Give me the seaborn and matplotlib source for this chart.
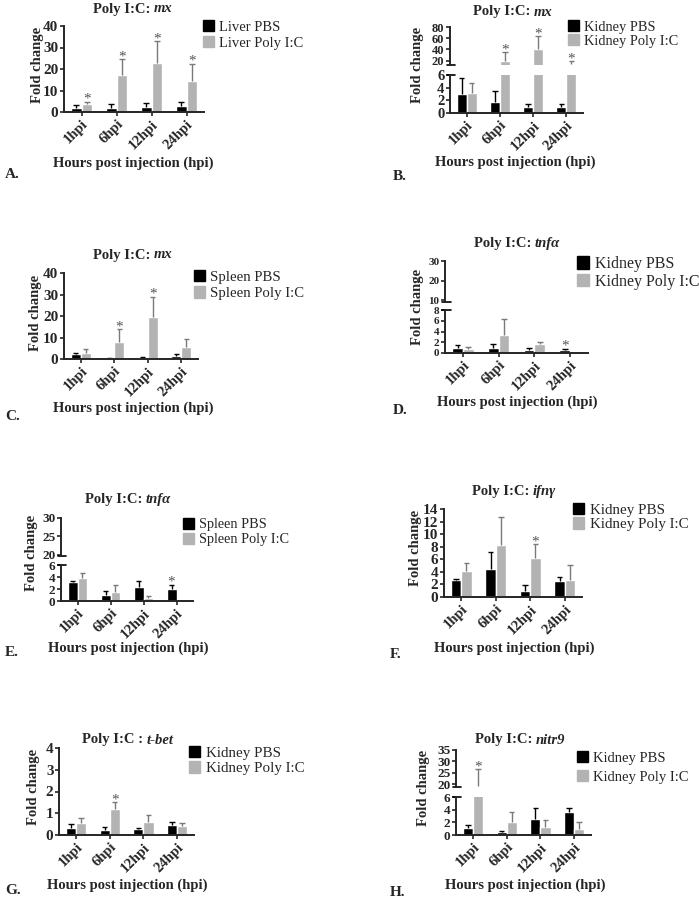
import pandas as pd
import seaborn as sns
import matplotlib.pyplot as plt
from matplotlib.patches import Patch

W, H = 699, 899
BLACK = "#000000"
GRAY = "#b3b3b3"
ERR_GRAY = "#7a7a7a"
STAR = "#555555"

times = ["1hpi", "6hpi", "12hpi", "24hpi"]

# A. liver mx
liver_mx_pbs = [1.8, 2.0, 2.5, 2.8]
liver_mx_pbs_sd = [1.3, 1.5, 1.8, 1.7]
liver_mx_pic = [3.6, 17.0, 23.0, 14.5]
liver_mx_pic_sd = [1.2, 7.5, 10.0, 8.0]
liver_mx_star_pbs = [0, 0, 0, 0]
liver_mx_star_pic = [1, 1, 1, 1]

# B. kidney mx (broken axis)
kidney_mx_pbs = [3.0, 1.8, 1.0, 1.0]
kidney_mx_pbs_sd = [2.5, 1.6, 0.5, 0.5]
kidney_mx_pic = [3.1, 20.0, 40.0, 13.0]
kidney_mx_pic_sd = [1.6, 15.0, 24.0, 6.0]
kidney_mx_star_pbs = [0, 0, 0, 0]
kidney_mx_star_pic = [0, 1, 1, 1]

# C. spleen mx
spleen_mx_pbs = [2.2, 0.2, 0.6, 1.2]
spleen_mx_pbs_sd = [0.5, 0.1, 0.4, 1.3]
spleen_mx_pic = [3.0, 7.8, 19.5, 5.8]
spleen_mx_pic_sd = [1.5, 6.0, 9.5, 3.7]
spleen_mx_star_pbs = [0, 0, 0, 0]
spleen_mx_star_pic = [0, 1, 1, 0]

# D. kidney tnfa (broken axis)
kidney_tnf_pbs = [1.0, 0.9, 0.5, 0.5]
kidney_tnf_pbs_sd = [0.4, 0.8, 0.4, 0.3]
kidney_tnf_pic = [0.8, 3.4, 1.6, 0.1]
kidney_tnf_pic_sd = [0.4, 3.0, 0.5, 0.0]
kidney_tnf_star_pbs = [0, 0, 0, 1]
kidney_tnf_star_pic = [0, 0, 0, 0]

# E. spleen tnfa (broken axis)
spleen_tnf_pbs = [3.1, 1.0, 2.3, 2.0]
spleen_tnf_pbs_sd = [0.2, 0.6, 1.0, 0.7]
spleen_tnf_pic = [3.9, 1.5, 0.5, 0.1]
spleen_tnf_pic_sd = [0.8, 1.1, 0.3, 0.0]
spleen_tnf_star_pbs = [0, 0, 0, 1]
spleen_tnf_star_pic = [0, 0, 0, 0]

# F. kidney ifng
kidney_ifn_pbs = [2.7, 4.5, 0.9, 2.5]
kidney_ifn_pbs_sd = [0.2, 2.7, 1.0, 0.7]
kidney_ifn_pic = [4.1, 8.3, 6.2, 2.7]
kidney_ifn_pic_sd = [1.3, 4.4, 2.2, 2.4]
kidney_ifn_star_pbs = [0, 0, 0, 0]
kidney_ifn_star_pic = [0, 0, 1, 0]

# G. kidney t-bet
kidney_tbet_pbs = [0.32, 0.25, 0.28, 0.45]
kidney_tbet_pbs_sd = [0.18, 0.10, 0.06, 0.17]
kidney_tbet_pic = [0.55, 1.2, 0.62, 0.42]
kidney_tbet_pic_sd = [0.23, 0.32, 0.28, 0.15]
kidney_tbet_star_pbs = [0, 0, 0, 0]
kidney_tbet_star_pic = [0, 1, 0, 0]

# H. kidney nitr9 (broken axis)
kidney_nitr_pbs = [1.1, 0.5, 2.6, 3.7]
kidney_nitr_pbs_sd = [0.5, 0.2, 1.6, 0.6]
kidney_nitr_pic = [19.0, 2.0, 1.2, 1.0]
kidney_nitr_pic_sd = [7.6, 1.7, 1.2, 1.1]
kidney_nitr_star_pbs = [0, 0, 0, 0]
kidney_nitr_star_pic = [1, 0, 0, 0]

sns.set_style("ticks")
plt.rcParams["font.family"] = ["Liberation Serif", "DejaVu Serif"]

fig = plt.figure(figsize=(W / 100, H / 100), dpi=100)
renderer = fig.canvas.get_renderer()


def px_box(l, t, r, b):
    return [l / W, 1 - b / H, (r - l) / W, (b - t) / H]


def draw_bars(ax, pbs, pbs_sd, pic, pic_sd, star_pbs, star_pic):
    df = pd.DataFrame({"time": times * 2, "fold": pbs + pic,
                       "group": ["PBS"] * 4 + ["PIC"] * 4})
    sns.barplot(data=df, x="time", y="fold", hue="group", palette=[BLACK, GRAY],
                width=0.6, errorbar=None, saturation=1, legend=False, ax=ax)
    for cont, means, sds, stars, ecol in zip(ax.containers, [pbs, pic], [pbs_sd, pic_sd],
                                             [star_pbs, star_pic], [BLACK, ERR_GRAY]):
        xs = [p.get_x() + p.get_width() / 2 for p in cont]
        tops = [m + s for m, s in zip(means, sds)]
        for x, m, t, st in zip(xs, means, tops, stars):
            if t > m:
                ax.vlines(x, m, t, color=ecol, lw=1)
                ax.hlines(t, x - 0.08, x + 0.08, color=ecol, lw=1)
            if st:
                ax.annotate("*", (x, t), xytext=(0, -3), textcoords="offset points",
                            ha="center", va="bottom", color=STAR, fontsize=11)


def style_axis(ax, ylim, yticks, fs, bottom=True):
    ax.set_ylim(*ylim)
    ax.set_yticks(yticks)
    ax.set_yticklabels([str(t) for t in yticks], fontsize=fs, fontweight="bold")
    ax.set_xlim(-0.5, 3.5)
    ax.set_xlabel("")
    ax.set_ylabel("")
    ax.tick_params(axis="y", length=3, width=1.2, pad=1)
    for s in ["top", "right"]:
        ax.spines[s].set_visible(False)
    ax.spines["left"].set_linewidth(1.4)
    if bottom:
        ax.spines["bottom"].set_linewidth(1.4)
        ax.tick_params(axis="x", length=3, width=1.2, pad=1)
        ax.set_xticks(range(4))
        ax.set_xticklabels(times, rotation=45, ha="right", rotation_mode="anchor",
                           fontsize=10.5, fontweight="bold")
    else:
        ax.spines["bottom"].set_visible(False)
        ax.set_xticks([])


def break_mark(ax, at_top):
    y = 1 if at_top else 0
    ax.plot([-0.02, 0.04], [y, y], transform=ax.transAxes, color="black",
            lw=1.2, clip_on=False)


def legend(x, y, labels, spacing, fs):
    handles = [Patch(facecolor=BLACK, edgecolor=BLACK), Patch(facecolor=GRAY, edgecolor=GRAY)]
    fig.legend(handles, labels, loc="upper left", bbox_to_anchor=(x / W, 1 - y / H),
               frameon=False, fontsize=fs, handlelength=0.75, handleheight=0.8,
               handletextpad=0.35, labelspacing=spacing, borderpad=0, borderaxespad=0)


def fig_text(x, y, s, **kw):
    return fig.text(x / W, 1 - y / H, s, **kw)


def title_text(cx, cy, prefix, gene, suffix=""):
    # bold prefix, bold italic gene name, centred as one line
    parts = [(prefix, "normal"), (gene, "italic"), (suffix, "normal")]
    texts = [fig_text(cx, cy, s, ha="left", va="center", fontsize=10.5,
                      fontweight="bold", fontstyle=st) for s, st in parts if s]
    widths = [t.get_window_extent(renderer).width for t in texts]
    x = cx - sum(widths) / 2
    for t, w in zip(texts, widths):
        t.set_x(x / W)
        x += w


def panel(data, box, ylim, yticks, fs, title, title_xy, ylab_xy, xlab_xy,
          letter, letter_xy, leg_xy, leg_labels, leg_sp, leg_fs, upper=None):
    ax = fig.add_axes(px_box(*box))
    draw_bars(ax, *data)
    style_axis(ax, ylim, yticks, fs)
    if upper is not None:
        break_mark(ax, True)
        ubox, uylim, uticks, ufs = upper
        axu = fig.add_axes(px_box(*ubox))
        draw_bars(axu, *data)
        style_axis(axu, uylim, uticks, ufs, bottom=False)
        break_mark(axu, False)
    title_text(*title_xy, *title)
    fig_text(*ylab_xy, "Fold change", ha="center", va="center", rotation=90,
             fontsize=10.5, fontweight="bold")
    fig_text(*xlab_xy, "Hours post injection (hpi)", ha="center", va="center",
             fontsize=10.5, fontweight="bold")
    fig_text(*letter_xy, letter, ha="left", va="center", fontsize=11, fontweight="bold")
    legend(*leg_xy, leg_labels, leg_sp, leg_fs)


# A
panel([liver_mx_pbs, liver_mx_pbs_sd, liver_mx_pic, liver_mx_pic_sd,
       liver_mx_star_pbs, liver_mx_star_pic],
      (64, 26, 204, 112), (0, 40), [0, 10, 20, 30, 40], 11,
      ("Poly I:C: ", "mx"), (133, 9), (37, 65), (133, 163), "A.", (5, 174),
      (203, 20), ["Liver PBS", "Liver Poly I:C"], 0.17, 10.5)

# B
panel([kidney_mx_pbs, kidney_mx_pbs_sd, kidney_mx_pic, kidney_mx_pic_sd,
       kidney_mx_star_pbs, kidney_mx_star_pic],
      (450, 75, 583, 113), (0, 6), [0, 2, 4, 6], 10.5,
      ("Poly I:C: ", "mx"), (513, 12), (418, 65), (515, 162), "B.", (393, 176),
      (568, 20), ["Kidney PBS", "Kidney Poly I:C"], 0.05, 10.4,
      upper=((450, 27, 583, 65), (12, 80), [20, 40, 60, 80], 9))

# C
panel([spleen_mx_pbs, spleen_mx_pbs_sd, spleen_mx_pic, spleen_mx_pic_sd,
       spleen_mx_star_pbs, spleen_mx_star_pic],
      (64, 273, 198, 359), (0, 40), [0, 10, 20, 30, 40], 11,
      ("Poly I:C: ", "mx"), (133, 255), (36, 313), (133, 408), "C.", (5, 416),
      (194, 270), ["Spleen PBS", "Spleen Poly I:C"], 0.17, 10.6)

# D
panel([kidney_tnf_pbs, kidney_tnf_pbs_sd, kidney_tnf_pic, kidney_tnf_pic_sd,
       kidney_tnf_star_pbs, kidney_tnf_star_pic],
      (445, 310, 588, 353), (0, 8), [0, 2, 4, 6, 8], 8,
      ("Poly I:C: ", "tnfα"), (517, 243), (418, 307), (517, 402), "D.", (393, 411),
      (577, 256), ["Kidney PBS", "Kidney Poly I:C"], 0.1, 11.5,
      upper=((445, 261, 588, 302), (9, 30), [10, 20, 30], 8))

# E
panel([spleen_tnf_pbs, spleen_tnf_pbs_sd, spleen_tnf_pic, spleen_tnf_pic_sd,
       spleen_tnf_star_pbs, spleen_tnf_star_pic],
      (61, 565, 193, 601), (0, 6), [0, 2, 4, 6], 9.5,
      ("Poly I:C: ", "tnfα"), (128, 499), (31, 553), (128, 648), "E.", (5, 653),
      (183, 518), ["Spleen PBS", "Spleen Poly I:C"], 0.1, 10.3,
      upper=((61, 518, 193, 556), (19.6, 30), [20, 25, 30], 9.5))

# F
panel([kidney_ifn_pbs, kidney_ifn_pbs_sd, kidney_ifn_pic, kidney_ifn_pic_sd,
       kidney_ifn_star_pbs, kidney_ifn_star_pic],
      (444, 509, 582, 597), (0, 14), [0, 2, 4, 6, 8, 10, 12, 14], 11,
      ("Poly I:C: ", "ifnγ"), (514, 491), (416, 548), (514, 648), "F.", (390, 655),
      (573, 503), ["Kidney PBS", "Kidney Poly I:C"], 0.02, 10.8)

# G
panel([kidney_tbet_pbs, kidney_tbet_pbs_sd, kidney_tbet_pic, kidney_tbet_pic_sd,
       kidney_tbet_star_pbs, kidney_tbet_star_pic],
      (59, 748, 194, 835), (0, 4), [0, 1, 2, 3, 4], 11,
      ("Poly I:C : ", "t-bet"), (128, 740), (34, 787), (127, 885), "G.", (5, 891),
      (189, 746), ["Kidney PBS", "Kidney Poly I:C"], 0.1, 10.8)

# H
panel([kidney_nitr_pbs, kidney_nitr_pbs_sd, kidney_nitr_pic, kidney_nitr_pic_sd,
       kidney_nitr_star_pbs, kidney_nitr_star_pic],
      (456, 797, 591, 835), (0, 6), [0, 2, 4, 6], 9.5,
      ("Poly I:C: ", "nitr9"), (520, 740), (424, 788), (525, 885), "H.", (390, 892),
      (577, 751), ["Kidney PBS", "Kidney Poly I:C"], 0.37, 10.5,
      upper=((456, 750, 591, 787), (18.7, 35), [20, 25, 30, 35], 9.5))

fig.savefig("out.png", dpi=100)
